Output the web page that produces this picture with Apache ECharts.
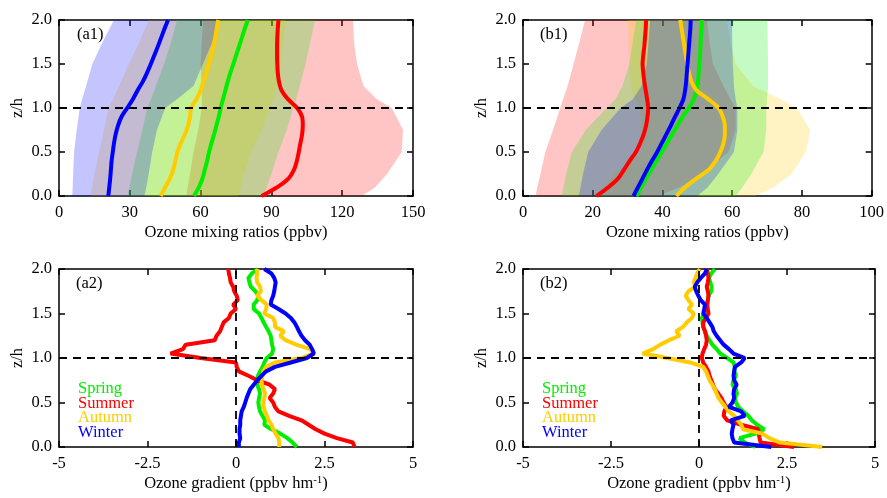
<!DOCTYPE html>
<html>
<head>
<meta charset="utf-8">
<script src="https://cdn.jsdelivr.net/npm/echarts@6.0.0/dist/echarts.min.js"></script>
<style>
html, body { margin: 0; padding: 0; background: #fff; }
#chart { width: 887px; height: 498px; }
</style>
</head>
<body>
<div id="chart"></div>
<script>
// heights (z/h)
const zProfile = [0,0.1,0.2,0.3,0.4,0.5,0.6,0.7,0.8,0.9,1.0,1.1,1.2,1.3,1.4,1.5,1.6,1.7,1.8,1.9,2.0];
const zBand = [0,0.1,0.25,0.5,0.75,1.0,1.1,1.25,1.5,1.75,2.0];
const zGrad = [0,0.05,0.1,0.15,0.2,0.25,0.3,0.35,0.4,0.45,0.5,0.55,0.6,0.65,0.7,0.75,0.8,0.85,0.9,0.95,
               1.0,1.05,1.1,1.15,1.2,1.25,1.3,1.35,1.4,1.45,1.5,1.55,1.6,1.65,1.7,1.75,1.8,1.85,1.9,1.95,2.0];

// (a1) mean ozone mixing ratios
const a1Spring = [57.2,59.3,60.8,61.8,62.8,63.6,64.6,65.7,66.7,67.7,68.5,69.5,70.5,71.5,72.6,73.9,75.1,76.3,77.5,78.7,80.0];
const a1Summer = [85.9,92.5,97.3,99.6,100.8,101.6,102.3,103.0,103.3,103.0,100.9,97.0,94.3,93.2,92.7,92.5,92.4,92.4,92.5,92.7,93.0];
const a1Autumn = [43.1,45.0,47.0,48.4,49.3,50.2,51.6,53.3,54.7,55.5,56.0,58.2,60.0,61.2,62.4,63.5,64.5,65.4,66.2,66.8,67.5];
const a1Winter = [20.9,21.3,21.7,22.0,22.3,22.8,23.3,24.0,25.0,26.5,28.9,31.3,33.3,35.5,37.3,38.9,40.4,41.9,43.3,44.7,46.2];
// (a1) spread
const a1SpringLow  = [28.9,29.8,31,33.1,35.3,37.4,39,41,44.5,47.5,50];
const a1SpringHigh = [87,88,90,93,96.5,99.3,100.5,102,104.5,106.5,108.5];
const a1SummerLow  = [54,54.5,55.5,57,59,60.5,60.5,60.5,60,60.5,61];
const a1SummerHigh = [128.3,134,139,145.2,145.8,141,134.7,129,126.3,125,124.6];
const a1AutumnLow  = [13.4,14,15,17,19,21,23,25.5,29.6,34,38.1];
const a1AutumnHigh = [76,77,78.5,81.5,86,89.5,91,92.5,94,95,96];
const a1WinterLow  = [5.6,5.8,6.0,6.4,7.5,8.8,9.8,11.5,14.1,18.5,23.3];
const a1WinterHigh = [36.2,37,38,39.5,41.5,45,50,57,61,65,68.5];

// (b1) mean ozone mixing ratios
const b1Spring = [32.6,33.9,35.3,36.8,38.3,39.8,41.3,42.8,44.3,45.8,47.6,49.0,49.8,50.2,50.4,50.6,50.8,50.9,51.0,51.2,51.3];
const b1Summer = [21.1,24.5,27.3,29.0,30.6,32.4,33.6,34.6,35.3,35.7,35.9,35.6,35.2,34.8,34.5,34.3,34.5,34.8,35.0,35.2,35.3];
const b1Autumn = [44.0,46.5,49.8,53.3,55.3,56.6,57.5,57.9,57.9,57.3,56.1,53.2,49.8,48.3,47.6,47.1,46.7,46.3,45.9,45.5,45.1];
const b1Winter = [31.7,33.0,34.3,35.6,37.0,38.5,39.8,41.1,42.4,43.6,44.9,46.0,46.5,46.8,47.0,47.2,47.4,47.6,47.8,48.0,48.1];
// (b1) spread
const b1SpringLow  = [11.1,11.6,12.4,14,18,24,26.5,28.5,30.5,31.5,32.4];
const b1SpringHigh = [61,63,65.5,69,69.8,69.8,70,70.3,70.3,70.2,70.1];
const b1SummerLow  = [3.6,4.1,5.0,6.4,8.6,10.7,11.5,12.8,14.5,16.2,17.8];
const b1SummerHigh = [38.6,45,51,59,61,61,59.5,57.5,54.5,53.5,52.8];
const b1AutumnLow  = [21.4,23,26,34.3,34,33.5,32,31,30.5,30.3,30.1];
const b1AutumnHigh = [66.6,72,77,81.2,82.4,78.5,74,66,61,59.5,58.5];
const b1WinterLow  = [16,16.5,17.2,18.7,22.5,28,31.5,34,35.5,36,36.5];
const b1WinterHigh = [50,53,56,60.5,61.5,61.5,61,60.5,60.2,60,60];

// (a2) ozone gradients
const a2Spring = [1.72,1.6,1.45,1.25,1.0,0.8,0.82,0.75,0.68,0.65,0.63,0.65,0.68,0.65,0.6,0.58,0.62,0.68,0.75,0.8,
                  0.87,1.02,1.05,1.02,1.0,0.98,0.92,0.85,0.78,0.72,0.65,0.5,0.5,0.6,0.63,0.55,0.42,0.38,0.35,0.45,0.62];
const a2Summer = [3.35,3.3,2.85,2.5,2.25,2.05,1.85,1.5,1.2,1.1,1.05,0.95,1.05,1.1,0.95,0.6,0.35,0.08,0.02,0.0,
                  -1.0,-1.85,-1.5,-1.42,-0.6,-0.55,-0.45,-0.4,-0.35,-0.2,-0.15,0.0,-0.08,0.05,0.02,-0.05,-0.08,-0.15,-0.17,-0.2,-0.22];
const a2Autumn = [1.22,1.22,1.2,1.12,1.05,1.0,0.92,0.87,0.82,0.78,0.77,0.8,0.82,0.78,0.73,0.72,0.75,0.77,0.85,1.1,
                  1.85,2.18,2.1,1.7,1.4,1.25,1.35,1.1,1.1,1.05,0.8,0.85,0.87,0.72,0.6,0.7,0.68,0.6,0.58,0.6,0.6];
const a2Winter = [0.08,0.08,0.12,0.1,0.1,0.12,0.12,0.14,0.16,0.22,0.26,0.3,0.35,0.4,0.5,0.6,0.72,0.85,1.1,1.55,
                  2.0,2.2,2.15,2.08,1.95,1.85,1.78,1.72,1.65,1.55,1.4,1.2,0.98,1.0,1.05,1.08,1.1,1.12,1.08,1.0,0.8];

// (b2) ozone gradients
const b2Spring = [1.6,1.3,1.15,1.6,1.85,1.65,1.5,1.4,1.25,1.12,1.05,1.02,1.08,1.05,0.95,0.98,1.05,1.0,1.02,0.98,
                  0.8,0.6,0.5,0.38,0.3,0.22,0.17,0.12,0.1,0.08,0.15,0.22,0.25,0.25,0.27,0.35,0.36,0.32,0.28,0.35,0.45];
const b2Summer = [2.7,1.75,1.72,1.7,1.68,1.2,0.8,0.7,0.72,0.78,0.7,0.64,0.55,0.45,0.4,0.35,0.3,0.27,0.2,0.12,
                  0.08,0.1,0.15,0.2,0.22,0.2,0.17,0.12,0.12,0.2,0.27,0.25,0.22,0.25,0.27,0.25,0.22,0.25,0.27,0.25,0.22];
const b2Autumn = [3.5,2.3,2.0,1.8,1.25,1.2,1.1,1.0,0.85,0.75,0.65,0.56,0.5,0.45,0.38,0.3,0.25,0.2,0.12,-0.25,
                  -0.9,-1.6,-1.3,-1.1,-0.85,-0.55,-0.65,-0.45,-0.35,-0.2,-0.15,-0.3,-0.2,-0.3,-0.38,-0.3,-0.1,-0.15,-0.1,-0.05,0.02];
const b2Winter = [2.05,1.0,0.95,0.93,0.95,0.98,0.9,1.3,1.2,0.85,0.95,1.0,0.98,1.0,1.07,1.0,0.98,1.0,1.02,1.2,
                  1.3,0.98,0.85,0.7,0.6,0.5,0.42,0.38,0.3,0.22,0.12,0.15,0.17,0.05,-0.02,-0.08,-0.12,-0.05,0.05,0.17,0.22];

const seasons = ['Spring', 'Summer', 'Autumn', 'Winter'];
const lineColors = { Spring: '#00ee00', Summer: '#ff0000', Autumn: '#ffcc00', Winter: '#0000ff' };
const bandColors = { Spring: 'rgba(0,238,0,0.23)', Summer: 'rgba(255,0,0,0.23)', Autumn: 'rgba(255,204,0,0.23)', Winter: 'rgba(0,0,255,0.23)' };

const yTicks = [0, 2, 0.5];
const xTicks = [[0, 150, 30], [0, 100, 20], [-5, 5, 2.5], [-5, 5, 2.5]];
const xNames = ['Ozone mixing ratios (ppbv)', 'Ozone mixing ratios (ppbv)',
                'Ozone gradient (ppbv hm{sup|-1})', 'Ozone gradient (ppbv hm{sup|-1})'];
const panelLabels = ['(a1)', '(b1)', '(a2)', '(b2)'];

const FONT = '"Liberation Serif", "Times New Roman", serif';
const FS = 16.5;

const grids = [
    { left: 59, top: 20, width: 354, height: 176 },
    { left: 523, top: 20, width: 352, height: 176 },
    { left: 59, top: 269, width: 354, height: 178 },
    { left: 523, top: 269, width: 352, height: 178 }
];

const profiles = [
    { Spring: a1Spring, Summer: a1Summer, Autumn: a1Autumn, Winter: a1Winter },
    { Spring: b1Spring, Summer: b1Summer, Autumn: b1Autumn, Winter: b1Winter },
    { Spring: a2Spring, Summer: a2Summer, Autumn: a2Autumn, Winter: a2Winter },
    { Spring: b2Spring, Summer: b2Summer, Autumn: b2Autumn, Winter: b2Winter }
];
const bands = [
    { Summer: [a1SummerLow, a1SummerHigh], Autumn: [a1AutumnLow, a1AutumnHigh], Spring: [a1SpringLow, a1SpringHigh], Winter: [a1WinterLow, a1WinterHigh] },
    { Summer: [b1SummerLow, b1SummerHigh], Autumn: [b1AutumnLow, b1AutumnHigh], Spring: [b1SpringLow, b1SpringHigh], Winter: [b1WinterLow, b1WinterHigh] }
];

const chart = echarts.init(document.getElementById('chart'));

const xAxes = [], yAxes = [], series = [];

grids.forEach(function (g, i) {
    const [xmin, xmax, xint] = xTicks[i];
    const frame = { show: true, onZero: false, lineStyle: { color: '#000', width: 1.5 } };
    const tick = { show: true, inside: true, length: 6, lineStyle: { color: '#000', width: 1.5 } };
    const label = { color: '#000', fontFamily: FONT, fontSize: FS };
    xAxes.push({
        type: 'value', gridIndex: i, position: 'bottom', min: xmin, max: xmax, interval: xint,
        axisLine: frame, axisTick: tick, splitLine: { show: false },
        axisLabel: Object.assign({ margin: 8 }, label),
        name: xNames[i], nameLocation: 'middle', nameGap: 28,
        nameTextStyle: { color: '#000', fontFamily: FONT, fontSize: FS, lineHeight: 18,
            rich: { sup: { fontFamily: FONT, fontSize: 11, verticalAlign: 'top', lineHeight: 11 } } }
    });
    xAxes.push({
        type: 'value', gridIndex: i, position: 'top', min: xmin, max: xmax, interval: xint,
        axisLine: frame, axisTick: tick, splitLine: { show: false }, axisLabel: { show: false }
    });
    yAxes.push({
        type: 'value', gridIndex: i, position: 'left', min: yTicks[0], max: yTicks[1], interval: yTicks[2],
        axisLine: frame, axisTick: tick, splitLine: { show: false },
        axisLabel: Object.assign({ margin: 7, formatter: v => v.toFixed(1) }, label),
        name: 'z/h', nameLocation: 'middle', nameGap: 33,
        nameTextStyle: { color: '#000', fontFamily: FONT, fontSize: FS }
    });
    yAxes.push({
        type: 'value', gridIndex: i, position: 'right', min: yTicks[0], max: yTicks[1], interval: yTicks[2],
        axisLine: frame, axisTick: tick, splitLine: { show: false }, axisLabel: { show: false }
    });

    // spread bands
    if (i < 2) {
        ['Summer', 'Autumn', 'Spring', 'Winter'].forEach(function (s) {
            const lo = bands[i][s][0], hi = bands[i][s][1];
            series.push({
                type: 'custom', name: s + ' range', xAxisIndex: 2 * i, yAxisIndex: 2 * i,
                silent: true, z: 1, data: [[lo[0], zBand[0]]],
                renderItem: function (params, api) {
                    const pts = [];
                    for (let k = 0; k < zBand.length; k++) pts.push(api.coord([lo[k], zBand[k]]));
                    for (let k = zBand.length - 1; k >= 0; k--) pts.push(api.coord([hi[k], zBand[k]]));
                    return { type: 'polygon', shape: { points: pts }, style: { fill: bandColors[s] } };
                }
            });
        });
    }

    // profile lines
    const zs = i < 2 ? zProfile : zGrad;
    seasons.forEach(function (s, k) {
        const ser = {
            type: 'line', name: s, xAxisIndex: 2 * i, yAxisIndex: 2 * i,
            data: profiles[i][s].map((v, j) => [v, zs[j]]),
            symbol: 'none', smooth: i < 2 ? 0.3 : false, z: 3,
            lineStyle: { color: lineColors[s], width: 4 },
            itemStyle: { color: lineColors[s] },
            emphasis: { disabled: true }
        };
        if (k === 0) {
            const marks = [{ yAxis: 1 }];
            if (i >= 2) marks.push({ xAxis: 0 });
            ser.markLine = {
                silent: true, symbol: 'none', label: { show: false },
                lineStyle: { color: '#000', type: [8, 6], width: 1.8 },
                emphasis: { disabled: true },
                data: marks
            };
        }
        series.push(ser);
    });
});

function seasonLegend(left) {
    return {
        left: left, top: 380, orient: 'vertical', icon: 'none', itemWidth: 0, itemHeight: 14,
        itemGap: -2.2, selectedMode: false, padding: 0,
        textStyle: { fontFamily: FONT, fontSize: FS, lineHeight: 14, padding: 0 },
        data: seasons.map(s => ({ name: s, textStyle: { color: lineColors[s] } }))
    };
}

const option = {
    backgroundColor: '#fff',
    animation: false,
    grid: grids,
    xAxis: xAxes,
    yAxis: yAxes,
    legend: [seasonLegend(73), seasonLegend(537)],
    graphic: [
        { type: 'text', left: 77, top: 26, style: { text: panelLabels[0], font: FS + 'px ' + FONT, fill: '#000' } },
        { type: 'text', left: 540, top: 26, style: { text: panelLabels[1], font: FS + 'px ' + FONT, fill: '#000' } },
        { type: 'text', left: 76, top: 275, style: { text: panelLabels[2], font: FS + 'px ' + FONT, fill: '#000' } },
        { type: 'text', left: 540, top: 275, style: { text: panelLabels[3], font: FS + 'px ' + FONT, fill: '#000' } }
    ],
    series: series
};

chart.setOption(option);
</script>
</body>
</html>
